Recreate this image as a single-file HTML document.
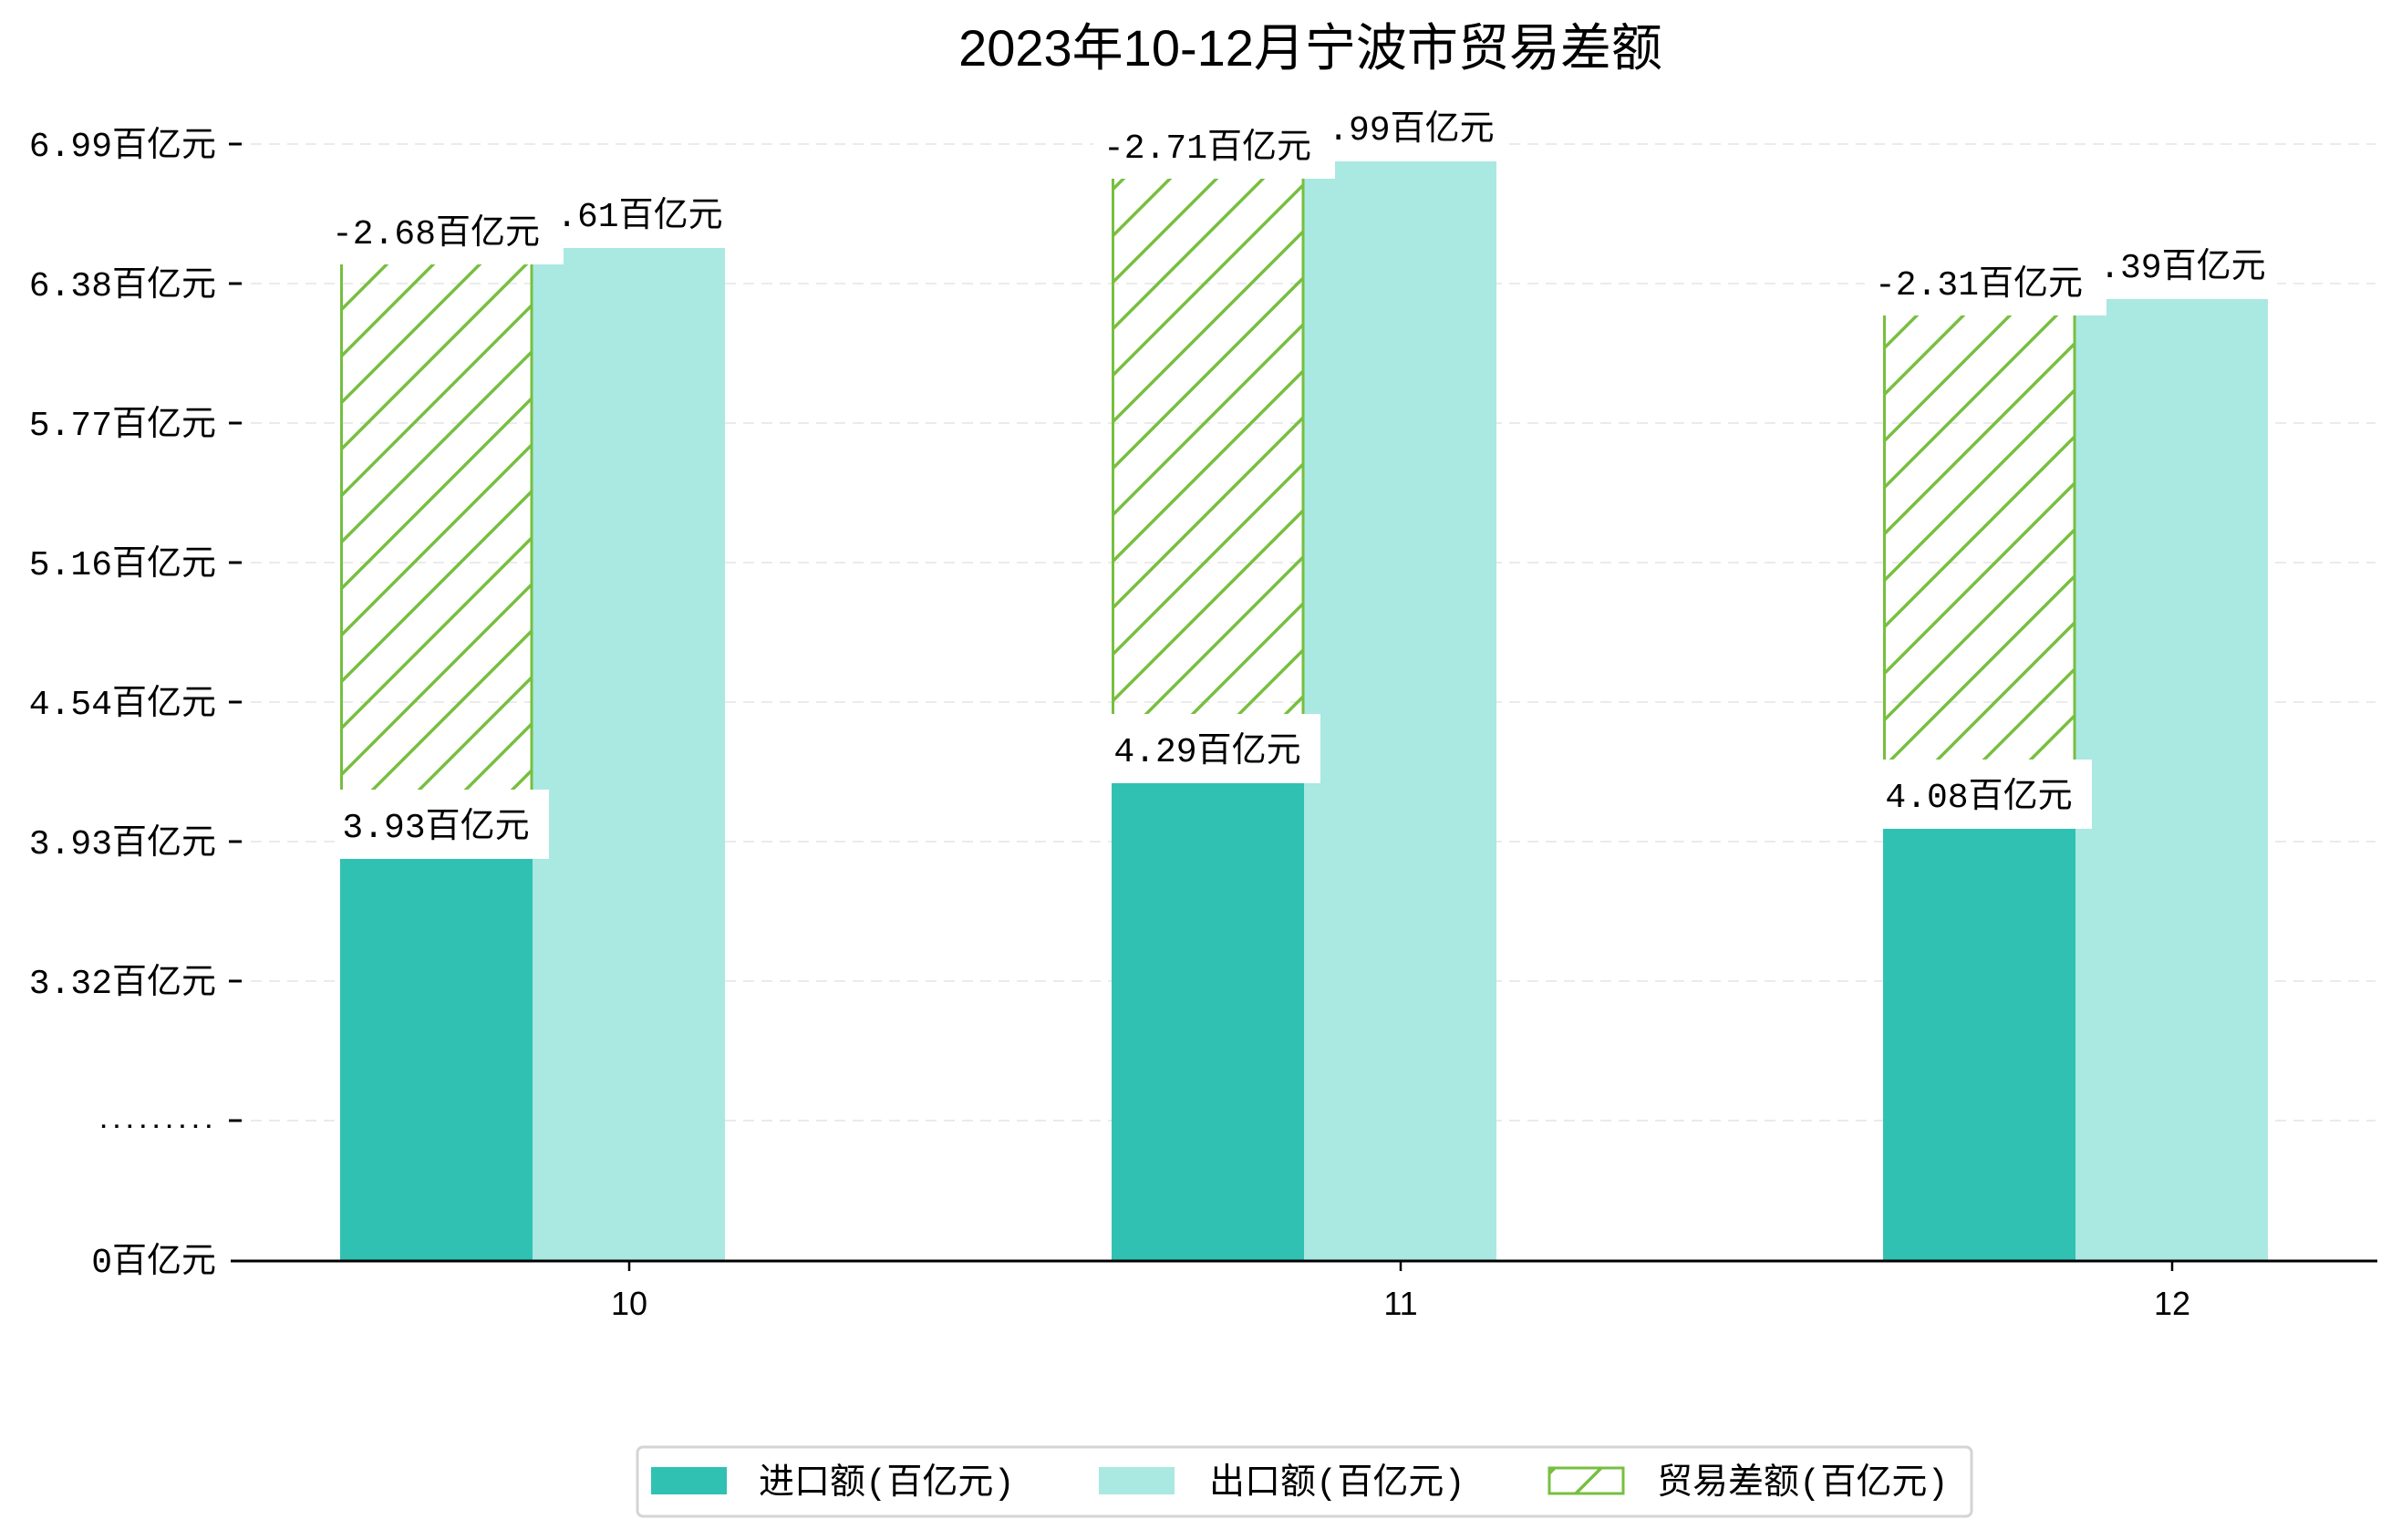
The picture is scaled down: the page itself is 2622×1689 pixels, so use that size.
<!DOCTYPE html>
<html><head><meta charset="utf-8"><style>
html,body{margin:0;padding:0;background:#fff;}
svg{display:block;}
svg text{font-family:"Liberation Mono","Noto Sans CJK SC",monospace;fill:#000;font-size:38px;}
svg text.s{font-family:"Liberation Sans","Noto Sans CJK SC",sans-serif;}
</style></head><body>
<svg width="2622" height="1689" viewBox="0 0 2622 1689" xmlns="http://www.w3.org/2000/svg">
<defs>
<pattern id="h" patternUnits="userSpaceOnUse" width="51" height="51">
<path d="M-5,56 L56,-5 M-5,5 L5,-5 M46,56 L56,46" stroke="#77BF40" stroke-width="3.5" fill="none"/>
</pattern>
</defs>
<text class="s" x="1437" y="72" text-anchor="middle" style="font-size:56px">2023年10-12月宁波市贸易差额</text>
<g stroke="#ebebeb" stroke-width="2" stroke-dasharray="12,8">
<line x1="255" y1="158" x2="2605" y2="158"/><line x1="255" y1="311" x2="2605" y2="311"/>
<line x1="255" y1="464" x2="2605" y2="464"/><line x1="255" y1="617" x2="2605" y2="617"/>
<line x1="255" y1="770" x2="2605" y2="770"/><line x1="255" y1="923" x2="2605" y2="923"/>
<line x1="255" y1="1076" x2="2605" y2="1076"/><line x1="255" y1="1229" x2="2605" y2="1229"/>
</g>
<g stroke="#000" stroke-width="3">
<line x1="251" y1="158" x2="265" y2="158"/><line x1="251" y1="311" x2="265" y2="311"/>
<line x1="251" y1="464" x2="265" y2="464"/><line x1="251" y1="617" x2="265" y2="617"/>
<line x1="251" y1="770" x2="265" y2="770"/><line x1="251" y1="923" x2="265" y2="923"/>
<line x1="251" y1="1076" x2="265" y2="1076"/><line x1="251" y1="1229" x2="265" y2="1229"/>
</g>
<g text-anchor="end">
<text x="237" y="171">6.99百亿元</text><text x="237" y="324">6.38百亿元</text>
<text x="237" y="477">5.77百亿元</text><text x="237" y="630">5.16百亿元</text>
<text x="237" y="783">4.54百亿元</text><text x="237" y="936">3.93百亿元</text>
<text x="237" y="1089">3.32百亿元</text><text x="236" y="1237" style="font-size:24px;font-weight:bold">.........</text>
<text x="237" y="1395">0百亿元</text>
</g>
<g>
<rect x="373" y="942" width="211" height="440" fill="#31C1B3"/>
<rect x="584" y="272" width="211" height="1110" fill="#AAE8E2"/>
<rect x="373" y="290" width="211" height="652" fill="url(#h)"/>
<line x1="374.5" y1="290" x2="374.5" y2="942" stroke="#77BF40" stroke-width="3"/>
<line x1="583" y1="290" x2="583" y2="942" stroke="#77BF40" stroke-width="3"/>
<rect x="1219" y="859" width="211" height="523" fill="#31C1B3"/>
<rect x="1430" y="177" width="211" height="1205" fill="#AAE8E2"/>
<rect x="1219" y="196" width="211" height="663" fill="url(#h)"/>
<line x1="1220.5" y1="196" x2="1220.5" y2="859" stroke="#77BF40" stroke-width="3"/>
<line x1="1429" y1="196" x2="1429" y2="859" stroke="#77BF40" stroke-width="3"/>
<rect x="2065" y="909" width="211" height="473" fill="#31C1B3"/>
<rect x="2276" y="328" width="211" height="1054" fill="#AAE8E2"/>
<rect x="2065" y="346" width="211" height="563" fill="url(#h)"/>
<line x1="2066.5" y1="346" x2="2066.5" y2="909" stroke="#77BF40" stroke-width="3"/>
<line x1="2275" y1="346" x2="2275" y2="909" stroke="#77BF40" stroke-width="3"/>
</g>
<g text-anchor="middle">
<rect x="575" y="210" width="230" height="62" fill="#fff"/><text x="690" y="248">6.61百亿元</text>
<rect x="1421" y="115" width="230" height="62" fill="#fff"/><text x="1536" y="153">6.99百亿元</text>
<rect x="2267" y="266" width="230" height="62" fill="#fff"/><text x="2382" y="304">6.39百亿元</text>
</g>
<g text-anchor="middle">
<rect x="353" y="214" width="265" height="76" fill="#fff"/><text x="478" y="267">-2.68百亿元</text>
<rect x="1199" y="120" width="265" height="76" fill="#fff"/><text x="1324" y="173">-2.71百亿元</text>
<rect x="2045" y="270" width="265" height="76" fill="#fff"/><text x="2170" y="323">-2.31百亿元</text>
</g>
<g text-anchor="middle">
<rect x="373" y="866" width="229" height="76" fill="#fff"/><text x="478" y="918">3.93百亿元</text>
<rect x="1219" y="783" width="229" height="76" fill="#fff"/><text x="1324" y="835">4.29百亿元</text>
<rect x="2065" y="833" width="229" height="76" fill="#fff"/><text x="2170" y="885">4.08百亿元</text>
</g>
<line x1="253" y1="1383" x2="2607" y2="1383" stroke="#000" stroke-width="3"/>
<g stroke="#000" stroke-width="2.5">
<line x1="690" y1="1383" x2="690" y2="1394"/><line x1="1536" y1="1383" x2="1536" y2="1394"/><line x1="2382" y1="1383" x2="2382" y2="1394"/>
</g>
<g text-anchor="middle">
<text class="s" x="690" y="1442" style="font-size:36px">10</text><text class="s" x="1536" y="1442" style="font-size:36px">11</text><text class="s" x="2382" y="1442" style="font-size:36px">12</text>
</g>
<rect x="699" y="1587" width="1463" height="76" rx="6" fill="#fff" stroke="#d4d4d4" stroke-width="3"/>
<rect x="714" y="1609" width="83" height="30" fill="#31C1B3"/>
<rect x="1205" y="1609" width="83" height="30" fill="#AAE8E2"/>
<rect x="1699" y="1610" width="81" height="28" fill="url(#h)" stroke="#77BF40" stroke-width="3"/>
<text x="832" y="1638" style="font-size:39px">进口额(百亿元)</text>
<text x="1326" y="1638" style="font-size:39px">出口额(百亿元)</text>
<text x="1817" y="1638" style="font-size:39px">贸易差额(百亿元)</text>
</svg>
</body></html>
